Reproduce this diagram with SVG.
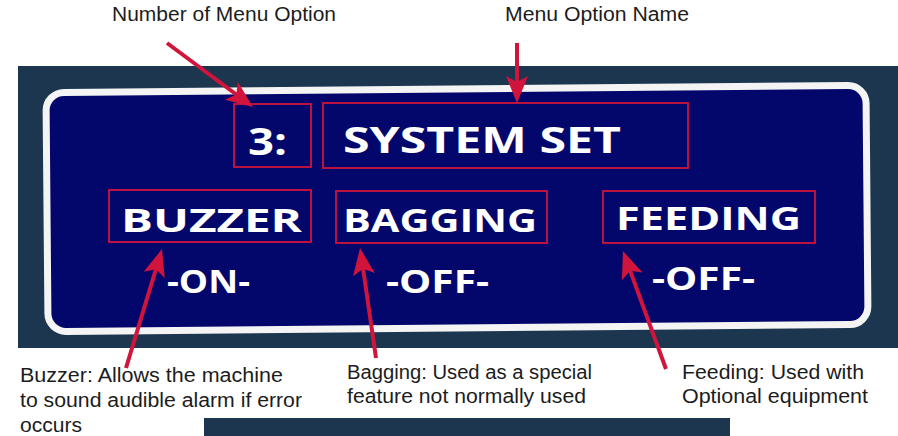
<svg xmlns="http://www.w3.org/2000/svg" width="898" height="436" viewBox="0 0 898 436">
  <style>
    .lbl { font-family: "Liberation Sans", Arial, sans-serif; font-size: 19.5px; fill: #1c1c1c; }
    .lcd { font-family: "Open Sans", "DejaVu Sans", sans-serif; font-weight: bold; fill: #ffffff; }
    .box { fill: none; stroke: #d0143c; stroke-width: 1.8; }
    .arrow { fill: none; stroke: #d0143c; stroke-width: 4; marker-end: url(#head); }
  </style>
  <defs>
    <marker id="head" viewBox="-15 -12 32 24" refX="0" refY="0" markerWidth="32" markerHeight="24" markerUnits="userSpaceOnUse" orient="auto" overflow="visible">
      <path d="M15,0 L-12,-11 L-6,0 L-12,11 Z" fill="#d0143c"/>
    </marker>
  </defs>
  <rect width="898" height="436" fill="#ffffff"/>
  <g id="panel">
    <rect x="18" y="66" width="880" height="282" fill="#1c3650"/>
    <rect x="47" y="89" width="820" height="239" rx="18" ry="18" fill="#03076b" stroke="#f4f4f4" stroke-width="7" transform="rotate(-0.5 457 208)"/>
    <rect x="204" y="418" width="526" height="18" fill="#1c3650"/>
  </g>
  <g id="node-number">
    <rect class="box" x="234" y="104" width="77" height="63"/>
    <text class="lcd" x="248" y="155" font-size="37" textLength="39" lengthAdjust="spacingAndGlyphs">3:</text>
  </g>
  <g id="node-name">
    <rect class="box" x="323" y="103" width="365" height="65"/>
    <text class="lcd" x="343" y="153" font-size="36" textLength="278" lengthAdjust="spacingAndGlyphs">SYSTEM SET</text>
  </g>
  <g id="node-buzzer">
    <rect class="box" x="109" y="190" width="202" height="52"/>
    <text class="lcd" x="121" y="232" font-size="33" textLength="181" lengthAdjust="spacingAndGlyphs">BUZZER</text>
    <text class="lcd" x="167" y="293" font-size="33" textLength="83" lengthAdjust="spacingAndGlyphs">-ON-</text>
  </g>
  <g id="node-bagging">
    <rect class="box" x="336" y="191" width="211" height="52"/>
    <text class="lcd" x="343" y="232" font-size="33" textLength="194" lengthAdjust="spacingAndGlyphs">BAGGING</text>
    <text class="lcd" x="386" y="293" font-size="33" textLength="103" lengthAdjust="spacingAndGlyphs">-OFF-</text>
  </g>
  <g id="node-feeding">
    <rect class="box" x="603" y="191" width="212" height="52"/>
    <text class="lcd" x="616" y="230" font-size="33" textLength="185" lengthAdjust="spacingAndGlyphs">FEEDING</text>
    <text class="lcd" x="652" y="290" font-size="33" textLength="103" lengthAdjust="spacingAndGlyphs">-OFF-</text>
  </g>
  <g id="labels">
    <text class="lbl" x="112" y="21" textLength="224" lengthAdjust="spacingAndGlyphs">Number of Menu Option</text>
    <text class="lbl" x="505" y="21" textLength="184" lengthAdjust="spacingAndGlyphs">Menu Option Name</text>
    <text class="lbl" x="20" y="382" textLength="263" lengthAdjust="spacingAndGlyphs">Buzzer: Allows the machine</text>
    <text class="lbl" x="20" y="407" textLength="282" lengthAdjust="spacingAndGlyphs">to sound audible alarm if error</text>
    <text class="lbl" x="20" y="432" textLength="62" lengthAdjust="spacingAndGlyphs">occurs</text>
    <text class="lbl" x="347" y="379" textLength="245" lengthAdjust="spacingAndGlyphs">Bagging: Used as a special</text>
    <text class="lbl" x="347" y="403" textLength="239" lengthAdjust="spacingAndGlyphs">feature not normally used</text>
    <text class="lbl" x="682" y="379" textLength="182" lengthAdjust="spacingAndGlyphs">Feeding: Used with</text>
    <text class="lbl" x="682" y="403" textLength="186" lengthAdjust="spacingAndGlyphs">Optional equipment</text>
  </g>
  <g id="connectors">
    <line class="arrow" x1="167" y1="43" x2="241" y2="98"/>
    <line class="arrow" x1="517" y1="43" x2="517" y2="88"/>
    <line class="arrow" x1="126" y1="368" x2="157.7" y2="263.4"/>
    <line class="arrow" x1="376" y1="358" x2="362.2" y2="262.8"/>
    <line class="arrow" x1="666" y1="369" x2="628.1" y2="265.1"/>
  </g>
</svg>
